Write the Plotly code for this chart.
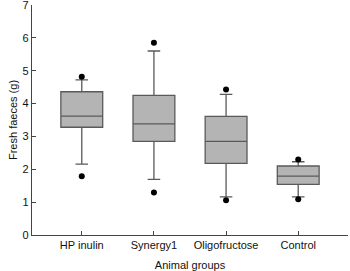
import plotly.graph_objects as go

groups = ["HP inulin", "Synergy1", "Oligofructose", "Control"]
q1 = [3.28, 2.85, 2.18, 1.54]
median = [3.62, 3.38, 2.85, 1.79]
q3 = [4.36, 4.25, 3.61, 2.10]
lower_whisker = [2.16, 1.69, 1.16, 1.16]
upper_whisker = [4.72, 5.60, 4.28, 2.23]
outlier_groups = ["HP inulin", "HP inulin", "Synergy1", "Synergy1",
                  "Oligofructose", "Oligofructose", "Control", "Control"]
outlier_values = [4.82, 1.79, 5.85, 1.29, 4.43, 1.06, 2.30, 1.09]
y_ticks = [0, 1, 2, 3, 4, 5, 6, 7]

fig = go.Figure()
fig.add_trace(go.Box(
    x=groups, q1=q1, median=median, q3=q3,
    lowerfence=lower_whisker, upperfence=upper_whisker,
    fillcolor="#b4b4b4",
    line=dict(color="#5a5a5a", width=1.3),
    width=0.58, whiskerwidth=0.3,
    boxpoints=False, showlegend=False, hoverinfo="skip",
))
fig.add_trace(go.Scatter(
    x=outlier_groups, y=outlier_values, mode="markers",
    marker=dict(color="black", size=6), showlegend=False, hoverinfo="skip",
))

font = dict(family="Liberation Sans, Arial, sans-serif", size=11, color="#111")
fig.update_layout(
    width=350, height=271,
    margin=dict(l=32, r=2, t=5, b=36, autoexpand=False),
    paper_bgcolor="white", plot_bgcolor="white",
    font=font,
)
fig.update_xaxes(
    range=[-0.69, 3.69], showline=True, linecolor="#444", linewidth=1.2,
    ticks="inside", ticklen=4, tickcolor="#444", showgrid=False, zeroline=False,
    title=dict(text="Animal groups", standoff=12, font=font),
    tickfont=font, automargin=False,
)
fig.update_yaxes(
    range=[0, 7], tickvals=y_ticks, showline=True, linecolor="#444", linewidth=1.2,
    ticks="inside", ticklen=4, tickcolor="#444", showgrid=False, zeroline=False,
    title=dict(text="Fresh faeces (g)", standoff=2, font=font),
    tickfont=font, automargin=False, ticklabeloverflow="allow",
)
fig.write_html("out.html", config={"displayModeBar": False},
               post_script="document.body.style.margin='0';")
